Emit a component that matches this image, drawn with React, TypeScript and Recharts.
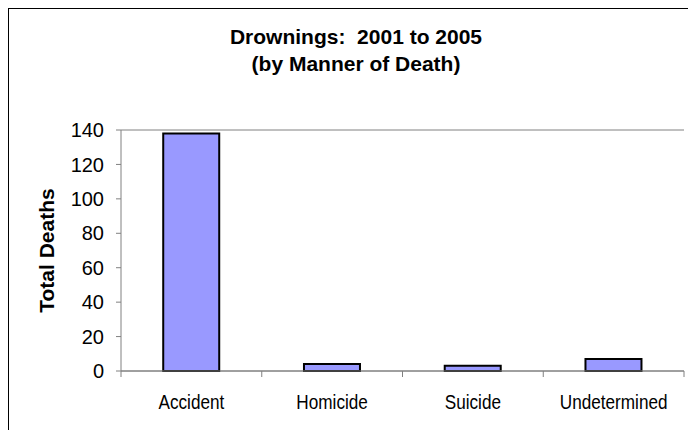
import { BarChart, Bar, XAxis, YAxis, CartesianGrid } from "recharts";

const categories = ["Accident", "Homicide", "Suicide", "Undetermined"];
const deaths = [138, 4, 3, 7];
const yTicks = [0, 20, 40, 60, 80, 100, 120, 140];

const FONT = '"Liberation Sans", Arial, sans-serif';
const GRAY = "#808080";
const BAR_FILL = "#9999FF";

const data = categories.map((name, i) => ({ name, deaths: deaths[i] }));

// category labels with the tick marks placed between the bars, like Excel does.
// no narrow font installed, so squeeze the text horizontally
function CategoryTick(props: any) {
  const { x, y, payload, index } = props;
  const off = payload.offset ?? 70.4;
  return (
    <g>
      <line x1={x - off} y1={y} x2={x - off} y2={y + 6} stroke={GRAY} />
      {index === categories.length - 1 && (
        <line x1={x + off} y1={y} x2={x + off} y2={y + 6} stroke={GRAY} />
      )}
      <text
        transform={`translate(${x}, ${y + 38}) scale(0.88, 1)`}
        textAnchor="middle"
        fontFamily={FONT}
        fontSize={19.5}
        fill="#000"
      >
        {payload.value}
      </text>
    </g>
  );
}

function AxisTitle(props: any) {
  const { viewBox } = props;
  const cx = viewBox.x + 37;
  const cy = viewBox.y + viewBox.height / 2;
  return (
    <text
      x={cx}
      y={cy}
      transform={`rotate(-90, ${cx}, ${cy})`}
      textAnchor="middle"
      dominantBaseline="central"
      fontFamily={FONT}
      fontWeight="bold"
      fontSize={21}
      fill="#000"
    >
      Total Deaths
    </text>
  );
}

export default function App() {
  return (
    <div
      style={{
        position: "relative",
        width: 686,
        height: 421,
        borderTop: "1px solid #000",
        borderLeft: "1px solid #000",
        overflow: "hidden",
        background: "#fff",
        fontFamily: FONT,
      }}
    >
      <div
        style={{
          position: "absolute",
          left: 0,
          top: 14,
          width: 694,
          textAlign: "center",
          fontWeight: "bold",
          fontSize: 21,
          lineHeight: "27px",
          color: "#000",
        }}
      >
        <div style={{ whiteSpace: "pre" }}>Drownings:  2001 to 2005</div>
        <div>(by Manner of Death)</div>
      </div>
      <div style={{ position: "absolute", left: 0, top: 0 }}>
        <BarChart
          width={686}
          height={428}
          data={data}
          margin={{ top: 121, right: 11, left: 0, bottom: 16 }}
          barCategoryGap="30%"
        >
          <CartesianGrid horizontal vertical={false} stroke={GRAY} />
          <XAxis
            dataKey="name"
            height={50}
            tickSize={0}
            tickMargin={0}
            axisLine={{ stroke: GRAY }}
            tickLine={false}
            tick={<CategoryTick />}
            interval={0}
          />
          <YAxis
            yAxisId="left"
            width={112}
            domain={[0, 140]}
            ticks={yTicks}
            interval={0}
            tickSize={5}
            tickMargin={12}
            axisLine={{ stroke: GRAY }}
            tickLine={{ stroke: GRAY }}
            tick={{ fill: "#000", fontSize: 20, fontFamily: FONT }}
            label={<AxisTitle />}
          />
          <YAxis
            yAxisId="right"
            orientation="right"
            width={0}
            domain={[0, 140]}
            tick={false}
            tickLine={false}
            axisLine={{ stroke: GRAY }}
          />
          <Bar
            yAxisId="left"
            dataKey="deaths"
            fill={BAR_FILL}
            stroke="#000"
            strokeWidth={2}
            isAnimationActive={false}
          />
        </BarChart>
      </div>
    </div>
  );
}
